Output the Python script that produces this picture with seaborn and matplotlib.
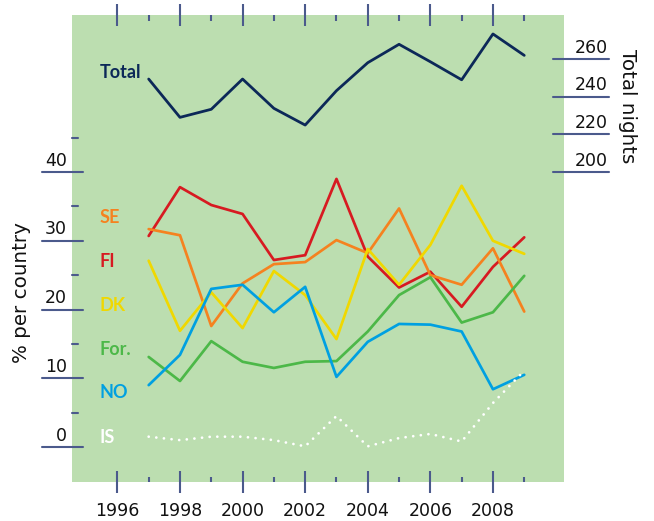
import matplotlib
matplotlib.use("Agg")
import matplotlib.pyplot as plt
import matplotlib.transforms as mtransforms
import numpy as np
import pandas as pd
import seaborn as sns

# ---- data -------------------------------------------------------------
years = [1997, 1998, 1999, 2000, 2001, 2002, 2003, 2004, 2005, 2006, 2007, 2008, 2009]

total_nights = [249.5, 229.1, 233.4, 249.5, 233.9, 225.0, 243.3, 258.2, 268.0, 258.7, 249.1, 273.5, 262.1]

fi = [30.7, 37.8, 35.2, 33.9, 27.2, 27.9, 39.0, 27.7, 23.2, 25.5, 20.4, 26.2, 30.5]
se = [31.7, 30.8, 17.6, 23.8, 26.6, 26.9, 30.1, 28.2, 34.7, 25.0, 23.6, 28.9, 19.7]
dk = [27.1, 16.9, 22.5, 17.3, 25.6, 22.1, 15.7, 28.8, 23.6, 29.4, 38.0, 30.0, 28.1]
foreign = [13.1, 9.6, 15.4, 12.4, 11.5, 12.4, 12.5, 16.8, 22.1, 24.7, 18.1, 19.6, 24.9]
no = [9.0, 13.4, 23.0, 23.6, 19.6, 23.3, 10.2, 15.3, 17.9, 17.8, 16.8, 8.4, 10.5]
is_ = [1.5, 1.0, 1.5, 1.5, 1.0, 0.1, 4.5, 0.1, 1.3, 1.9, 0.8, 6.4, 11.1]

country_names = ["FI", "SE", "DK", "For.", "NO"]
country_values = [fi, se, dk, foreign, no]

left_major = [0, 10, 20, 30, 40]
left_minor = [5, 15, 25, 35, 45]
right_major = [200, 220, 240, 260]
x_major = [1996, 1998, 2000, 2002, 2004, 2006, 2008]
x_minor = [1997, 1999, 2001, 2003, 2005, 2007, 2009]

# ---- style ------------------------------------------------------------
bg = "#bcdeb0"
tick_c = "#4b5a8c"
navy = "#0c2858"
colors = {"FI": "#d71a21", "SE": "#f5821f", "DK": "#f0d800",
          "For.": "#4cb848", "NO": "#00a0e1", "IS": "#ffffff"}

sns.set_style("white")
plt.rcParams["font.family"] = ["DejaVu Sans"]

W, H = 654, 521
fig = plt.figure(figsize=(W / 100, H / 100), dpi=100)
ax_l, ax_r, ax_t, ax_b = 72, 564, 15, 482
aw, ah = ax_r - ax_l, ax_b - ax_t
ax = fig.add_axes([ax_l / W, 1 - ax_b / H, aw / W, ah / H])
ax.set_facecolor(bg)
ax2 = ax.twinx()
ax2.patch.set_visible(False)

# ---- country shares (left axis) ---------------------------------------
long = pd.DataFrame({
    "year": np.tile(years, len(country_names)),
    "share": np.concatenate(country_values),
    "country": np.repeat(country_names, len(years)),
})
sns.lineplot(data=long, x="year", y="share", hue="country",
             hue_order=country_names, palette=colors, linewidth=1.95,
             legend=False, sort=False, ax=ax)

# Iceland as a row of round dots
is_df = pd.DataFrame({"year": years, "share": is_})
sns.lineplot(data=is_df, x="year", y="share", color=colors["IS"],
             linewidth=2.0, linestyle=(0, (0.01, 2.75)), legend=False, ax=ax,
             dash_capstyle="round")

# ---- total nights (right axis) ----------------------------------------
tot_df = pd.DataFrame({"year": years, "nights": total_nights})
sns.lineplot(data=tot_df, x="year", y="nights", color=navy, linewidth=2.0,
             legend=False, ax=ax2)

# ---- axes limits ------------------------------------------------------
ax.set_xlim(1994.55, 2010.27)
ax.set_ylim(-5.09, 62.84)
ax2.set_ylim(34.93, 283.6)

for a in (ax, ax2):
    for s in a.spines.values():
        s.set_visible(False)
    a.set_xlabel("")
    a.set_ylabel("")
    a.set_yticks([])

# x ticks crossing top and bottom edges
ax.set_xticks(x_major)
ax.set_xticks(x_minor, minor=True)
ax.set_xticklabels([str(y) for y in x_major])
ax.tick_params(axis="x", which="major", direction="inout", length=22 * 0.72,
               width=1.5, color=tick_c, top=True, bottom=True, pad=6.5,
               labelsize=12.5, labelcolor="#111111")
ax.tick_params(axis="x", which="minor", direction="in", length=5.5 * 0.72,
               width=1.5, color=tick_c, top=True, bottom=True)
ax2.tick_params(axis="x", which="both", length=0)

# left axis: long ticks with numbers sitting on top of them
for v in left_major:
    ax.axhline(v, xmin=-30 / aw, xmax=11 / aw, color=tick_c, lw=1.5,
               clip_on=False, zorder=5)
for v in left_minor:
    ax.axhline(v, xmin=0, xmax=5.5 / aw, color=tick_c, lw=1.5,
               clip_on=False, zorder=5)
tl = mtransforms.offset_copy(
    mtransforms.blended_transform_factory(ax.transAxes, ax.transData),
    fig=fig, y=2.5, units="dots")
for v in left_major:
    ax.text(-5 / aw, v, str(v), transform=tl, ha="right", va="bottom",
            fontsize=12.5, color="#111111")

# right axis
for v in right_major:
    ax2.axhline(v, xmin=1 - 11 / aw, xmax=1 + 45 / aw, color=tick_c, lw=1.5,
                clip_on=False, zorder=5)
tr = mtransforms.offset_copy(
    mtransforms.blended_transform_factory(ax2.transAxes, ax2.transData),
    fig=fig, y=2.5, units="dots")
for v in right_major:
    ax2.text(1 + 44 / aw, v, str(v), transform=tr, ha="right", va="bottom",
             fontsize=12.5, color="#111111")

# axis titles
fig.text(22 / W, 1 - 293 / H, "% per country", rotation=90, ha="center",
         va="center", fontsize=14.3, color="#111111")
fig.text(628 / W, 1 - 106 / H, "Total nights", rotation=-90, ha="center",
         va="center", fontsize=14.3, color="#111111")

# series names stacked at the left edge
lab_x = (99.3 - ax_l) / aw
label_baselines = {"Total": 77.5, "SE": 222.7, "FI": 267.3, "DK": 311,
                   "For.": 355, "NO": 398.3, "IS": 442.7}
label_colors = dict(colors)
label_colors["Total"] = navy
for name, yb in label_baselines.items():
    ax.text(lab_x, (ax_b - yb) / ah, name, transform=ax.transAxes,
            ha="left", va="baseline", fontsize=13, fontweight="bold",
            family=["Lato", "DejaVu Sans"], color=label_colors[name])

fig.savefig("out.png", dpi=100)
